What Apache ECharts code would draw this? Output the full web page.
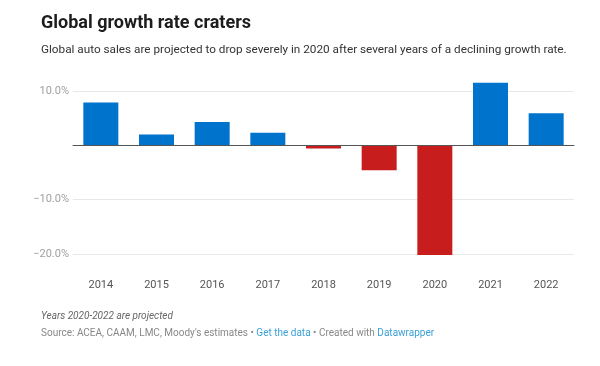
<!DOCTYPE html>
<html>
<head>
<meta charset="utf-8">
<script src="https://cdn.jsdelivr.net/npm/echarts@6/dist/echarts.min.js"></script>
<style>
html,body{margin:0;padding:0;background:#fff;}
#chart{width:600px;height:366px;}
</style>
</head>
<body>
<div id="chart"></div>
<script>
const years = ['2014','2015','2016','2017','2018','2019','2020','2021','2022'];
const growth = [7.9, 2.0, 4.3, 2.3, -0.6, -4.6, -20.2, 11.5, 5.9];
const yTicks = [-20, -10, 0, 10];

const FONT = 'Roboto, "Noto Sans", sans-serif';
const chart = echarts.init(document.getElementById('chart'), null, {renderer: 'canvas'});

chart.setOption({
  animation: false,
  backgroundColor: '#ffffff',
  title: [
    {
      text: 'Global growth rate craters',
      left: 36, top: 9,
      textStyle: {fontFamily: FONT, fontWeight: 'bold', fontSize: 18, color: '#1d1d1d'}
    },
    {
      text: 'Global auto sales are projected to drop severely in 2020 after several years of a declining growth rate.',
      left: 36, top: 39,
      textStyle: {fontFamily: FONT, fontWeight: 'normal', fontSize: 11.75, color: '#333333'}
    },
    {
      text: 'Years 2020-2022 are projected',
      left: 36, top: 306,
      textStyle: {fontFamily: FONT, fontWeight: 'normal', fontStyle: 'italic', fontSize: 10, color: '#666666'}
    },
    {
      text: '{g|Source: ACEA, CAAM, LMC, Moody\'s estimates • }{l|Get the data}{g| • Created with }{l|Datawrapper}',
      left: 36, top: 323,
      textStyle: {
        fontFamily: FONT, fontWeight: 'normal', fontSize: 10, color: '#888888',
        rich: {
          g: {fontFamily: FONT, fontSize: 10, color: '#888888'},
          l: {fontFamily: FONT, fontSize: 10, color: '#3aa0d6'}
        }
      }
    }
  ],
  grid: {left: 73, right: 26, top: 91, bottom: 112, containLabel: false},
  xAxis: [
    {
      type: 'category',
      data: years,
      axisLine: {onZero: true, lineStyle: {color: '#555555', width: 1}},
      axisTick: {show: false},
      axisLabel: {show: false},
      z: 10
    },
    {
      type: 'category',
      data: years,
      position: 'bottom',
      axisLine: {show: false, onZero: false},
      axisTick: {show: false},
      axisLabel: {
        show: true, margin: 26,
        fontFamily: FONT, fontSize: 11, color: '#555555'
      }
    }
  ],
  yAxis: {
    type: 'value',
    min: yTicks[0],
    max: yTicks[yTicks.length - 1],
    interval: 10,
    axisLine: {show: false},
    axisTick: {show: false},
    splitLine: {lineStyle: {color: '#e8e8e8', width: 1}},
    axisLabel: {
      margin: 4,
      fontFamily: FONT, fontSize: 11, color: '#a0a0a0',
      formatter: function (v) {
        if (v === 0) return '';
        const s = Math.abs(v).toFixed(1) + '%';
        return v < 0 ? '\u2212' + s : s;
      }
    }
  },
  series: [
    {
      type: 'bar',
      xAxisIndex: 0,
      data: growth.map(function (v) {
        return {value: v, itemStyle: {color: v < 0 ? '#c71e1d' : '#0073cc'}};
      }),
      barWidth: 35,
      clip: false,
      z: 5
    }
  ]
});
</script>
</body>
</html>
